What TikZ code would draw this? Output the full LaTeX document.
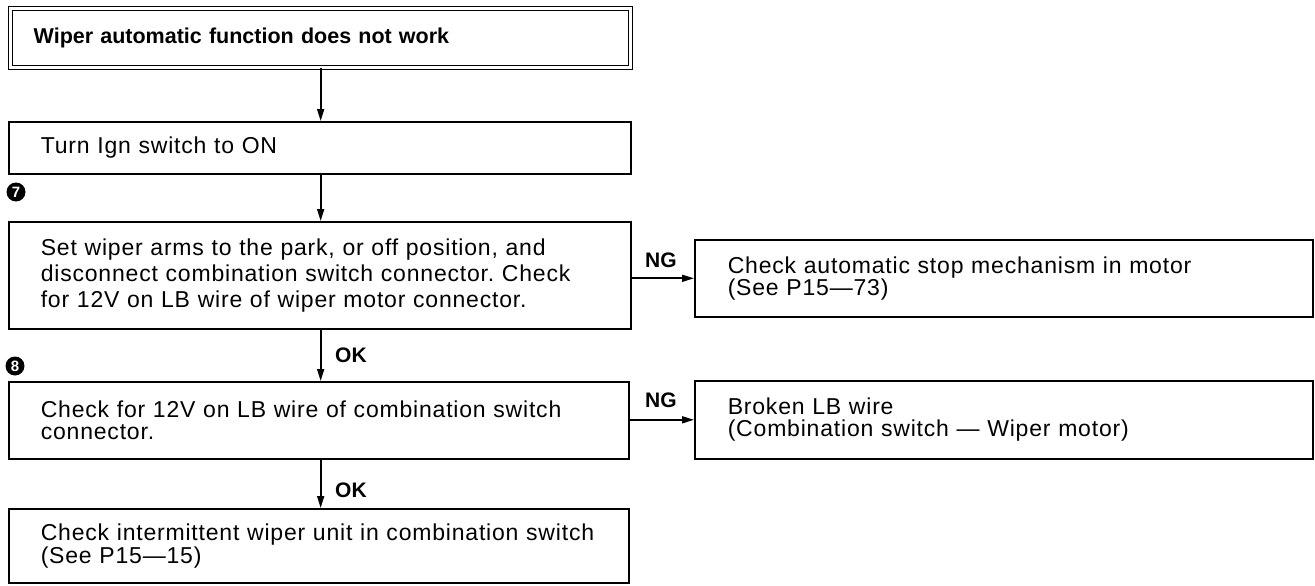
\documentclass[tikz,border=0pt]{standalone}
\usepackage{fontspec}
\setmainfont{Liberation Sans}
\newfontfamily\bodyfont[LetterSpace=3.5]{Liberation Sans}
\usetikzlibrary{arrows.meta}
\frenchspacing
\begin{document}
\begin{tikzpicture}[x=1pt,y=-1pt,
  box/.style={draw, line width=1.6pt, rectangle, anchor=north west, align=left,
    inner ysep=0pt, inner xsep=32pt, text width=558pt,
    font=\bodyfont\fontsize{23}{22.5}\selectfont},
  rbox/.style={box, inner xsep=33pt, text width=552pt},
  titlebox/.style={draw, line width=1.3pt, double, double distance=2.6pt, rectangle,
    anchor=north west, align=left, inner ysep=0pt, inner xsep=23pt, text width=574pt,
    font=\bfseries\fontsize{21.5}{22}\selectfont},
  arr/.style={line width=1.7pt, -{Triangle[length=12pt,width=7pt]}},
  lbl/.style={font=\bfseries\fontsize{21}{21}\selectfont, inner sep=0pt, anchor=west},
  numc/.style={circle, fill=black, text=white, inner sep=0pt, minimum size=19pt,
    font=\bfseries\fontsize{15}{15}\selectfont}
]
\useasboundingbox (0,0) rectangle (1315,586);
\node[titlebox, minimum height=59pt] (t) at (10,8) {Wiper automatic function does not work};
\node[box, minimum height=52pt] (b2) at (8,121) {Turn Ign switch to ON};
\node[numc] (n7) at (16,192) {7};
\node[box, minimum height=107pt, font=\bodyfont\fontsize{23}{26}\selectfont] (b3) at (8,221)
  {Set wiper arms to the park, or off position, and\\disconnect combination switch connector. Check\\for 12V on LB wire of wiper motor connector.};
\node[rbox, minimum height=77pt] (r3) at (694,239)
  {Check automatic stop mechanism in motor\\(See P15—73)};
\node[numc] (n8) at (15,366) {8};
\node[box, minimum height=77pt, text width=556pt] (b4) at (8,381)
  {Check for 12V on LB wire of combination switch\\connector.};
\node[rbox, minimum height=78pt] (r4) at (694,380)
  {Broken LB wire\\(Combination switch — Wiper motor)};
\node[box, minimum height=74pt, text width=556pt] (b5) at (8,508)
  {Check intermittent wiper unit in combination switch\\(See P15—15)};
\draw[arr] (t.south) -- (t.south |- b2.north);
\draw[arr] (t.south |- b2.south) -- (t.south |- b3.north);
\draw[arr] (t.south |- b3.south) -- (t.south |- b4.north);
\draw[arr] (t.south |- b4.south) -- (t.south |- b5.north);
\draw[arr] (b3.east |- r3.west) -- (r3.west);
\draw[arr] (b4.east |- r4.west) -- (r4.west);
\node[lbl] (ng1) at (645,260) {NG};
\node[lbl] (ng2) at (645,400) {NG};
\node[lbl] (ok1) at (335,355) {OK};
\node[lbl] (ok2) at (335,490) {OK};
\end{tikzpicture}
\end{document}
